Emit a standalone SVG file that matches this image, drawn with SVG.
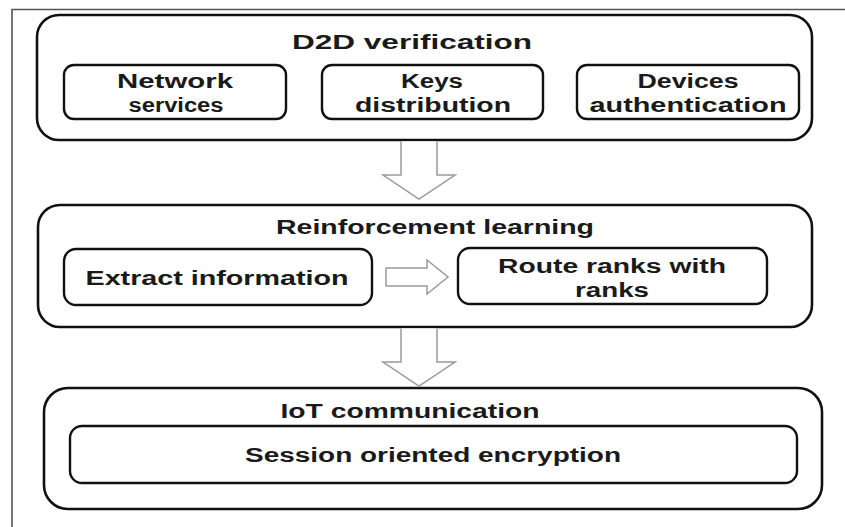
<svg xmlns="http://www.w3.org/2000/svg" width="845" height="527" viewBox="0 0 845 527">
<style>
.frame{fill:none;stroke:#555;stroke-width:1.6}
.box{fill:#fff;stroke:#111;stroke-width:2.6}
.sub{fill:#fff;stroke:#111;stroke-width:2.4}
.arr{fill:#fff;stroke:#9a9a9a;stroke-width:1.5;stroke-linejoin:miter}
text{font-family:"Liberation Sans",Arial,sans-serif;font-weight:bold;font-size:20px;fill:#1a1a1a;text-anchor:middle}
</style>
<rect width="845" height="527" fill="#fff"/>
<path class="frame" d="M12,527 V9.5 H845"/>

<g id="d2d">
<rect class="box" x="37" y="15" width="775" height="125" rx="22"/>
<text x="412" y="49" textLength="240" lengthAdjust="spacingAndGlyphs">D2D verification</text>
</g>
<g id="network-services">
<rect class="sub" x="64" y="65" width="222" height="54" rx="10"/>
<text x="175" y="88" textLength="116" lengthAdjust="spacingAndGlyphs">Network</text>
<text x="176" y="112" textLength="95" lengthAdjust="spacingAndGlyphs">services</text>
</g>
<g id="keys-distribution">
<rect class="sub" x="322" y="65" width="221" height="54" rx="10"/>
<text x="432" y="88" textLength="62" lengthAdjust="spacingAndGlyphs">Keys</text>
<text x="433" y="112" textLength="156" lengthAdjust="spacingAndGlyphs">distribution</text>
</g>
<g id="devices-authentication">
<rect class="sub" x="577" y="65" width="222" height="54" rx="10"/>
<text x="688" y="88" textLength="101" lengthAdjust="spacingAndGlyphs">Devices</text>
<text x="688" y="112" textLength="197" lengthAdjust="spacingAndGlyphs">authentication</text>
</g>

<g id="reinforcement">
<rect class="box" x="38" y="205" width="774" height="122" rx="22"/>
<text x="435" y="234" textLength="318" lengthAdjust="spacingAndGlyphs">Reinforcement learning</text>
</g>
<g id="extract-information">
<rect class="sub" x="64" y="249" width="308" height="56" rx="12"/>
<text x="217" y="285" textLength="263" lengthAdjust="spacingAndGlyphs">Extract information</text>
</g>
<g id="route-ranks">
<rect class="sub" x="458" y="248" width="309" height="56" rx="12"/>
<text x="612" y="273" textLength="228" lengthAdjust="spacingAndGlyphs">Route ranks with</text>
<text x="612" y="297" textLength="74" lengthAdjust="spacingAndGlyphs">ranks</text>
</g>

<g id="iot">
<rect class="box" x="44" y="388" width="778" height="121" rx="24"/>
<text x="410" y="418" textLength="259" lengthAdjust="spacingAndGlyphs">IoT communication</text>
</g>
<g id="session-encryption">
<rect class="sub" x="70" y="426" width="727" height="57" rx="12"/>
<text x="433" y="462" textLength="376" lengthAdjust="spacingAndGlyphs">Session oriented encryption</text>
</g>

<g id="connectors">
<path class="arr" d="M401,141.5 V175 H383 L419,199 L455,175 H437 V141.5"/>
<path class="arr" d="M386,268 H427 V260 L448,277 L427,294 V286 H386 Z"/>
<path class="arr" d="M401,328.5 V362 H383 L419,386 L455,362 H437 V328.5"/>
</g>
</svg>
